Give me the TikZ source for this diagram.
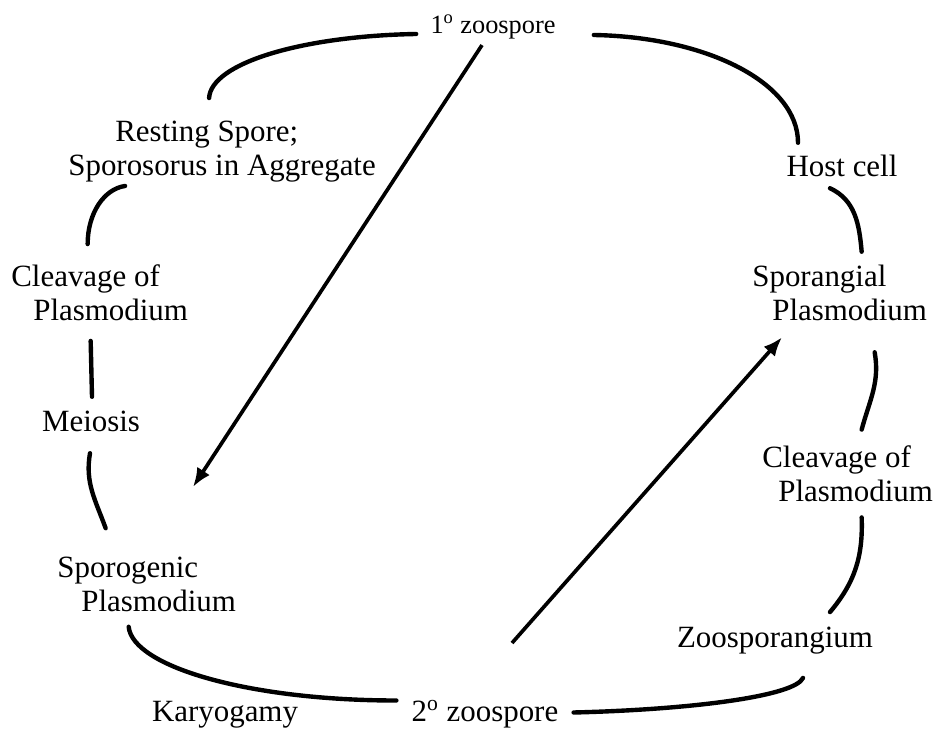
\documentclass[tikz,border=0pt]{standalone}
\usepackage{fontspec}
\setmainfont{Liberation Serif}
\usetikzlibrary{arrows.meta,positioning}

\tikzset{
  stage/.style={inner sep=0pt, font=\fontsize{17.6}{19.4}\selectfont},
  stagetwo/.style={stage, align=left, anchor=west},
  cycle/.style={line width=2.5pt, line cap=round},
  jump/.style={line width=2.1pt, -{Latex[length=3.8mm,width=3mm]}}
}

\begin{document}
\begin{tikzpicture}[x=0.02cm, y=0.02cm]
    \useasboundingbox (0,0) rectangle (939,-732);

    % Zoospores
    \node[stage, font=\fontsize{15}{18}\selectfont] (z1) at (493,-27) {1\textsuperscript{o} zoospore};
    \node[stage] (z2) at (485,-714.5) {2\textsuperscript{o} zoospore};

    % Right side - sporangial phase
    \node[stage] (host) at (842,-166) {Host cell};
    \node[stagetwo] (sporang) at (752,-293) {Sporangial\\\hspace*{0.4cm}Plasmodium};
    \node[stagetwo] (cleaveR) at (762,-474) {Cleavage of\\\hspace*{0.32cm}Plasmodium};
    \node[stage] (zsp) at (775,-641) {Zoosporangium};

    % Left side - sporogenic phase
    \node[stage] (karyo) at (225,-714.5) {Karyogamy};
    \node[stagetwo] (sporog) at (57,-584) {Sporogenic\\\hspace*{0.48cm}Plasmodium};
    \node[stage] (meiosis) at (91,-421.5) {Meiosis};
    \node[stagetwo] (cleaveL) at (11,-292.5) {Cleavage of\\\hspace*{0.44cm}Plasmodium};
    \node[stagetwo] (rest) at (68,-152) {\hspace*{0.94cm}Resting Spore;\\Sporosorus in Aggregate};

    % Cycle arcs
    \draw[cycle] ([shift={(-14,-7)}]z1.west) .. controls +(-114,-2) and +(2,35) .. ([shift={(-13,23)}]rest.north);
    \draw[cycle] ([shift={(38,-8)}]z1.east) .. controls +(113,-2) and +(0,60) .. ([shift={(-44,12)}]host.north);
    \draw[cycle] ([shift={(-12,-11)}]host.south) to[out=-25,in=95] ([shift={(22,13)}]sporang.north);
    \draw[cycle] ([shift={(35,-31)}]sporang.south) to[out=-80,in=75] ([shift={(14,16)}]cleaveR.north);
    \draw[cycle] ([shift={(14,-15)}]cleaveR.south) to[out=-88,in=50] ([shift={(55,15)}]zsp.north);
    \draw[cycle] ([shift={(28,-23)}]zsp.south) .. controls +(-8,-18) and +(120,3) .. ([shift={(15,2)}]z2.east);
    \draw[cycle] ([shift={(-18,-15)}]sporog.south) .. controls +(4,-40) and +(-147,0) .. ([shift={(-15,14)}]z2.west);
    \draw[cycle] ([shift={(-1,-21)}]meiosis.south) to[out=-100,in=110] ([shift={(-41,28)}]sporog.north);
    \draw[cycle] ([shift={(-9,-20)}]cleaveL.south) -- ([shift={(1,14)}]meiosis.north);
    \draw[cycle] ([shift={(-97,-3)}]rest.south) .. controls +(-21,-3) and +(0,31) .. ([shift={(-12,20)}]cleaveL.north);

    % Shortcut arrows
    \coordinate (tipL) at (193,-487);
    \coordinate (tailR) at (512,-643);
    \draw[jump] ([shift={(-11,-6)}]z1.south) -- (tipL);
    \draw[jump] (tailR) -- ([shift={(30,-16)}]sporang.south west);
\end{tikzpicture}
\end{document}
